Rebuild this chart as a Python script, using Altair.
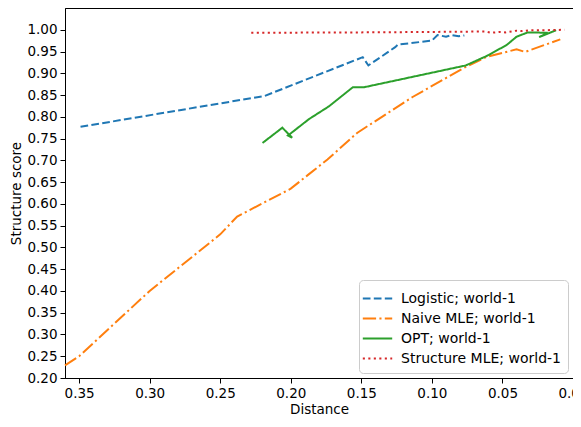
import altair as alt
import pandas as pd

series = ["Logistic; world-1", "Naive MLE; world-1", "OPT; world-1", "Structure MLE; world-1"]
colors = ["#1f77b4", "#ff7f0e", "#2ca02c", "#d62728"]
dashes = [[7.7, 3.3], [13.3, 3.3, 2.1, 3.3], [1, 0], [2.1, 3.4]]

logistic_x = [0.349, 0.2185, 0.149, 0.145, 0.126, 0.124, 0.100, 0.096, 0.090, 0.086, 0.081, 0.077]
logistic_y = [0.777, 0.848, 0.937, 0.918, 0.960, 0.966, 0.975, 0.988, 0.984, 0.988, 0.985, 0.987]

naive_x = [0.36, 0.35, 0.30, 0.25, 0.238, 0.20, 0.188, 0.174, 0.153, 0.114, 0.077, 0.061, 0.040, 0.034, 0.009]
naive_y = [0.229, 0.25, 0.40, 0.53, 0.571, 0.635, 0.666, 0.702, 0.763, 0.845, 0.913, 0.938, 0.955, 0.949, 0.978]

opt_x = [0.22, 0.206, 0.199, 0.202, 0.187, 0.173, 0.156, 0.148, 0.076, 0.061, 0.047,
         0.040, 0.032, 0.018, 0.024, 0.012]
opt_y = [0.740, 0.775, 0.752, 0.757, 0.795, 0.824, 0.868, 0.868, 0.918, 0.940, 0.965,
         0.984, 0.994, 0.993, 0.983, 0.999]

struct_x = [0.228, 0.15, 0.10, 0.062, 0.058, 0.052, 0.048, 0.040, 0.036, 0.030, 0.020, 0.006]
struct_y = [0.993, 0.994, 0.995, 0.996, 0.993, 0.995, 0.994, 0.998, 0.997, 0.999, 0.999, 1.0]

x_ticks = [0.0, 0.05, 0.10, 0.15, 0.20, 0.25, 0.30, 0.35]
y_ticks = [round(0.20 + 0.05 * i, 2) for i in range(17)]

rows = []
for name, xs, ys in zip(series,
                        [logistic_x, naive_x, opt_x, struct_x],
                        [logistic_y, naive_y, opt_y, struct_y]):
    for i, (x, y) in enumerate(zip(xs, ys)):
        rows.append({"series": name, "step": i, "distance": x, "score": y})
df = pd.DataFrame(rows)

legend = alt.Legend(
    title=None, orient="bottom-right", offset=5,
    fillColor="white", strokeColor="#cccccc", cornerRadius=4, padding=7,
    symbolType="M-1.4,0H1.4", symbolSize=441, symbolStrokeWidth=2,
    labelFontSize=14, labelFont="DejaVu Sans", labelColor="black",
    rowPadding=1, labelOffset=12,
)

chart = alt.Chart(df).mark_line(strokeWidth=2).encode(
    x=alt.X("distance:Q", title="Distance",
            scale=alt.Scale(domain=[0, 0.36], reverse=True, nice=False, zero=False),
            axis=alt.Axis(values=x_ticks, format=".2f", labelFlush=False)),
    y=alt.Y("score:Q", title="Structure score",
            scale=alt.Scale(domain=[0.2, 1.05], nice=False, zero=False),
            axis=alt.Axis(values=y_ticks, format=".2f", labelFlush=False)),
    color=alt.Color("series:N", scale=alt.Scale(domain=series, range=colors), legend=legend),
    strokeDash=alt.StrokeDash("series:N", scale=alt.Scale(domain=series, range=dashes), legend=legend),
    order="step:Q",
).properties(
    width=508,
    height=370,
    autosize=alt.AutoSizeParams(type="none"),
    padding={"left": 57, "top": 0, "right": 0, "bottom": 41},
).configure_view(
    stroke="black", strokeWidth=1
).configure_axis(
    grid=False, domainColor="black", tickColor="black", tickSize=5,
    labelFont="DejaVu Sans", labelFontSize=13.5, labelColor="black",
    titleFont="DejaVu Sans", titleFontSize=13.5, titleFontWeight="normal", titleColor="black",
    labelPadding=3, titlePadding=3,
)

chart.save("out.html", embed_options={"renderer": "svg", "actions": False})
